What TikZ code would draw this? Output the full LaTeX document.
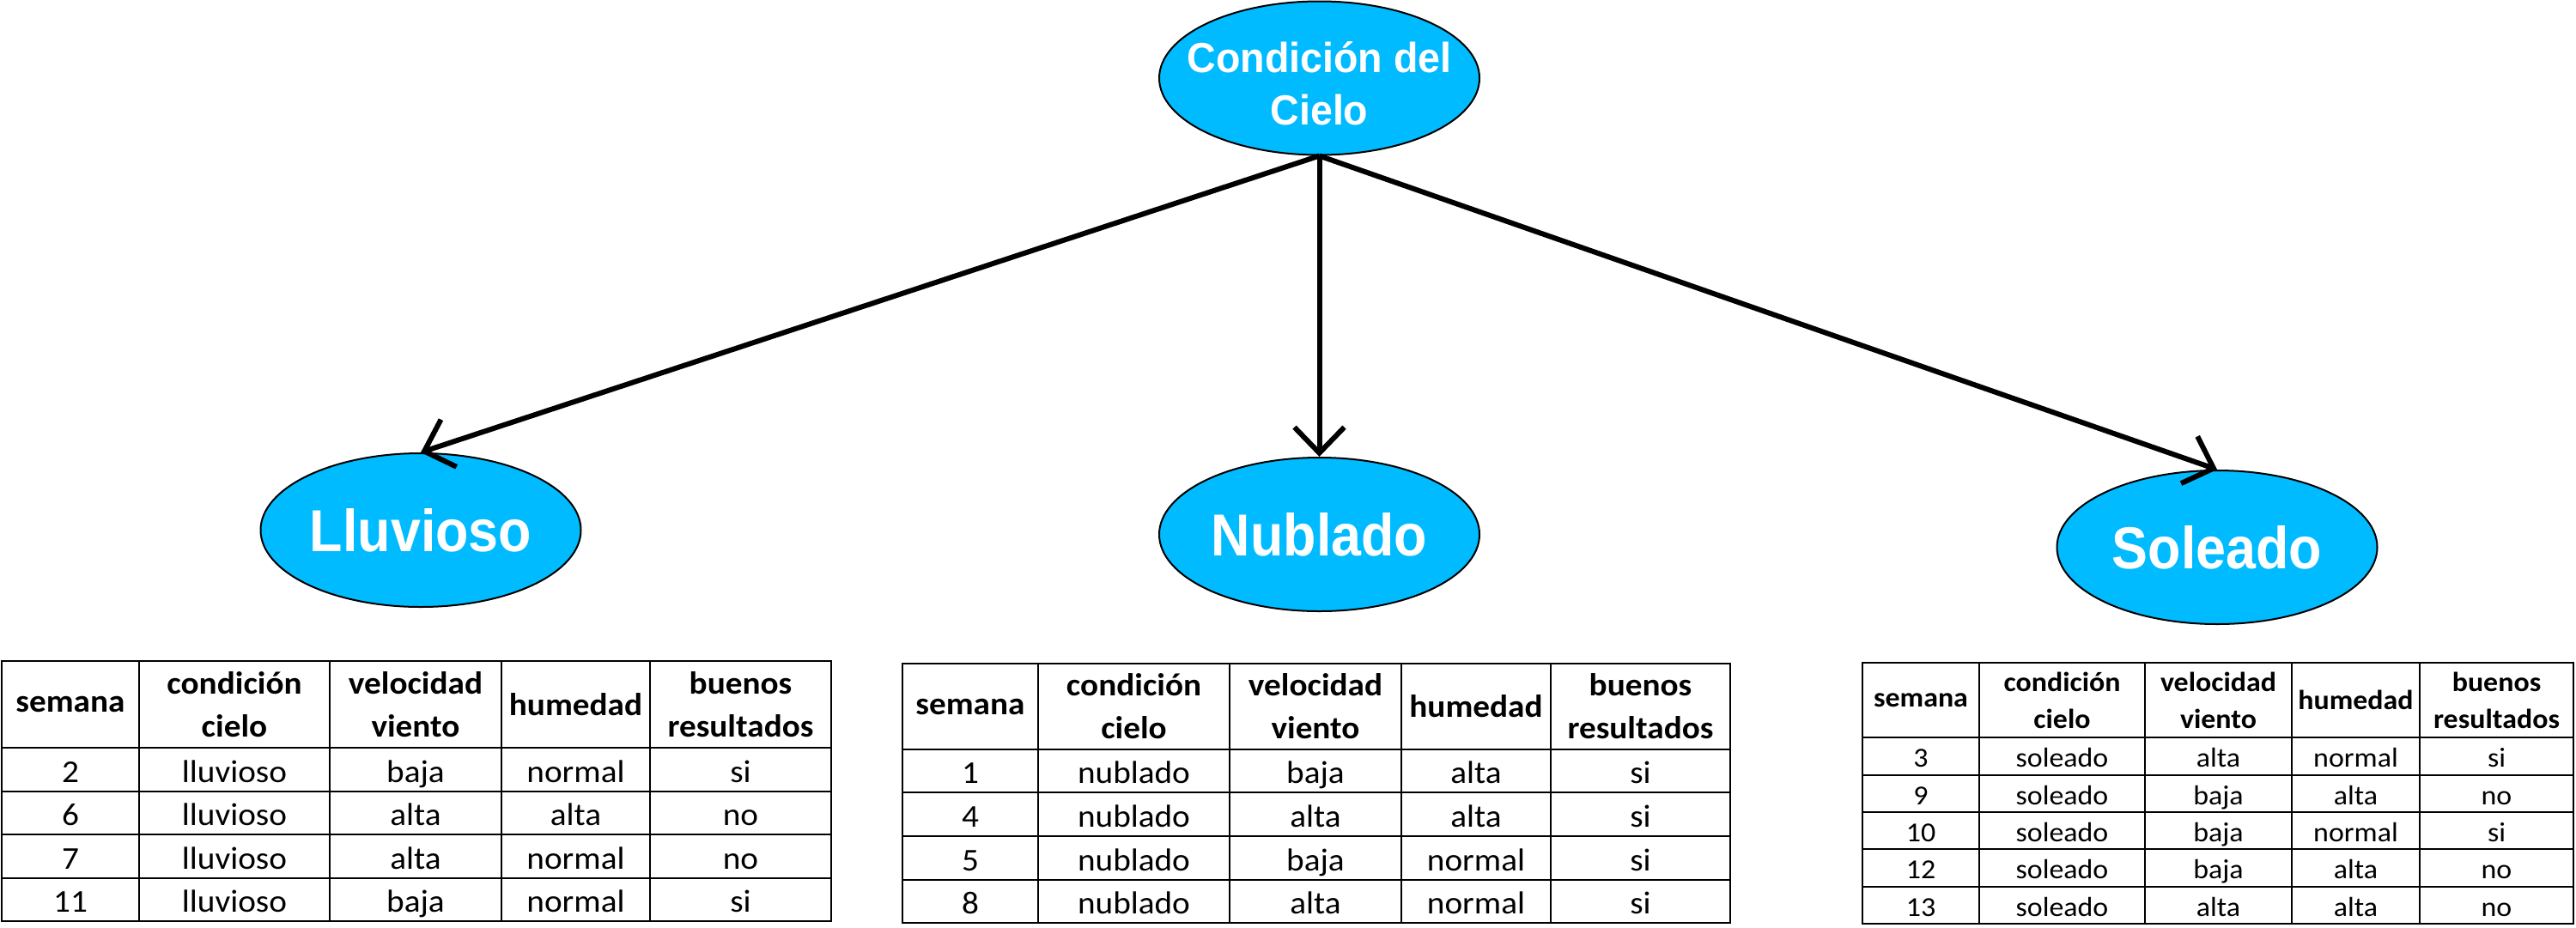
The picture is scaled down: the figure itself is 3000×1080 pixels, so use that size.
\documentclass[tikz,border=0pt]{standalone}
\usepackage{fontspec}
\setmainfont{Carlito}[FakeStretch=1.06]
\newfontfamily\ellfont{Liberation Sans}[FakeStretch=0.91]
\newfontfamily\topfont{Liberation Sans}[FakeStretch=0.95]
\usetikzlibrary{shapes.geometric,arrows.meta}
\definecolor{skyfill}{RGB}{0,187,255}
\tikzset{
  oval/.style={ellipse, draw=black, line width=2pt, fill=skyfill, inner sep=0pt,
    minimum width=373pt, minimum height=179pt, text=white,
    font=\ellfont\bfseries\fontsize{69}{72}\selectfont},
  toptext/.style={text=white, align=center, inner sep=0pt,
    font=\topfont\bfseries\fontsize{49}{61}\selectfont},
  conn/.style={line width=6pt, -{Straight Barb[length=30pt,width=58pt]}},
  tbl/.style={line width=2pt, draw=black},
  headA/.style={font=\bfseries\fontsize{37}{50}\selectfont, align=center, inner sep=0pt},
  bodyA/.style={font=\fontsize{37}{44}\selectfont, inner sep=0pt, text height=29pt, text depth=0pt},
  headC/.style={font=\bfseries\fontsize{32}{43}\selectfont, align=center, inner sep=0pt},
  bodyC/.style={font=\fontsize{32}{38}\selectfont, inner sep=0pt, text height=25pt, text depth=0pt},
}
\begin{document}
\begin{tikzpicture}[x=1pt,y=-1pt]
\useasboundingbox (0,0) rectangle (3000,1080);
% ellipses
\node[oval] (cielo) at (1536.5,91) {};
\node[toptext] (cielotxt) at (1536.5,97) {Condición del\\Cielo};
\node[oval] (lluv) at (490,617.5) {Lluvioso};
\node[oval] (nubl) at (1536.5,622.5) {Nublado};
\node[oval] (sole) at (2582,637.5) {Soleado};
% connectors
\draw[conn] (cielo.south) -- (lluv.north);
\draw[conn] (cielo.south) -- (nubl.north);
\draw[conn] (cielo.south) -- (sole.north);

% ---------- table 1 ----------
\draw[tbl] (2,770) rectangle (968,1073);
\foreach \x in {162,384,584,757} \draw[tbl] (\x,770) -- (\x,1073);
\foreach \y in {871,922,972,1023} \draw[tbl] (2,\y) -- (968,\y);
\node[headA] (ah1) at (82,820.5) {semana};
\node[headA] (ah2) at (273,820.5) {condición\\cielo};
\node[headA] (ah3) at (484,820.5) {velocidad\\viento};
\node[headA] (ah4) at (670.5,820.5) {humedad};
\node[headA] (ah5) at (862.5,820.5) {buenos\\resultados};
\foreach \n/\y/\a/\b/\c/\d/\e in {1/896.5/2/lluvioso/baja/normal/si,
  2/947/6/lluvioso/alta/alta/no, 3/997.5/7/lluvioso/alta/normal/no,
  4/1048/11/lluvioso/baja/normal/si}{
  \node[bodyA] (a\n c1) at (82,\y) {\a};
  \node[bodyA] (a\n c2) at (273,\y) {\b};
  \node[bodyA] (a\n c3) at (484,\y) {\c};
  \node[bodyA] (a\n c4) at (670.5,\y) {\d};
  \node[bodyA] (a\n c5) at (862.5,\y) {\e};
}

% ---------- table 2 ----------
\draw[tbl] (1051,773) rectangle (2015,1075);
\foreach \x in {1209,1432,1632,1806} \draw[tbl] (\x,773) -- (\x,1075);
\foreach \y in {873,923,974,1025} \draw[tbl] (1051,\y) -- (2015,\y);
\node[headA] (bh1) at (1130,823) {semana};
\node[headA] (bh2) at (1320.5,823) {condición\\cielo};
\node[headA] (bh3) at (1532,823) {velocidad\\viento};
\node[headA] (bh4) at (1719,823) {humedad};
\node[headA] (bh5) at (1910.5,823) {buenos\\resultados};
\foreach \n/\y/\a/\b/\c/\d/\e in {1/898/1/nublado/baja/alta/si,
  2/948.5/4/nublado/alta/alta/si, 3/999.5/5/nublado/baja/normal/si,
  4/1050/8/nublado/alta/normal/si}{
  \node[bodyA] (b\n c1) at (1130,\y) {\a};
  \node[bodyA] (b\n c2) at (1320.5,\y) {\b};
  \node[bodyA] (b\n c3) at (1532,\y) {\c};
  \node[bodyA] (b\n c4) at (1719,\y) {\d};
  \node[bodyA] (b\n c5) at (1910.5,\y) {\e};
}

% ---------- table 3 ----------
\draw[tbl] (2169,772) rectangle (2997,1076);
\foreach \x in {2305,2498,2669,2818} \draw[tbl] (\x,772) -- (\x,1076);
\foreach \y in {859,903,946,989,1033} \draw[tbl] (2169,\y) -- (2997,\y);
\node[headC] (ch1) at (2237,815.5) {semana};
\node[headC] (ch2) at (2401.5,815.5) {condición\\cielo};
\node[headC] (ch3) at (2583.5,815.5) {velocidad\\viento};
\node[headC] (ch4) at (2743.5,815.5) {humedad};
\node[headC] (ch5) at (2907.5,815.5) {buenos\\resultados};
\foreach \n/\y/\a/\b/\c/\d/\e in {1/881/3/soleado/alta/normal/si,
  2/924.5/9/soleado/baja/alta/no, 3/967.5/10/soleado/baja/normal/si,
  4/1011/12/soleado/baja/alta/no, 5/1054.5/13/soleado/alta/alta/no}{
  \node[bodyC] (c\n c1) at (2237,\y) {\a};
  \node[bodyC] (c\n c2) at (2401.5,\y) {\b};
  \node[bodyC] (c\n c3) at (2583.5,\y) {\c};
  \node[bodyC] (c\n c4) at (2743.5,\y) {\d};
  \node[bodyC] (c\n c5) at (2907.5,\y) {\e};
}
\end{tikzpicture}
\end{document}
